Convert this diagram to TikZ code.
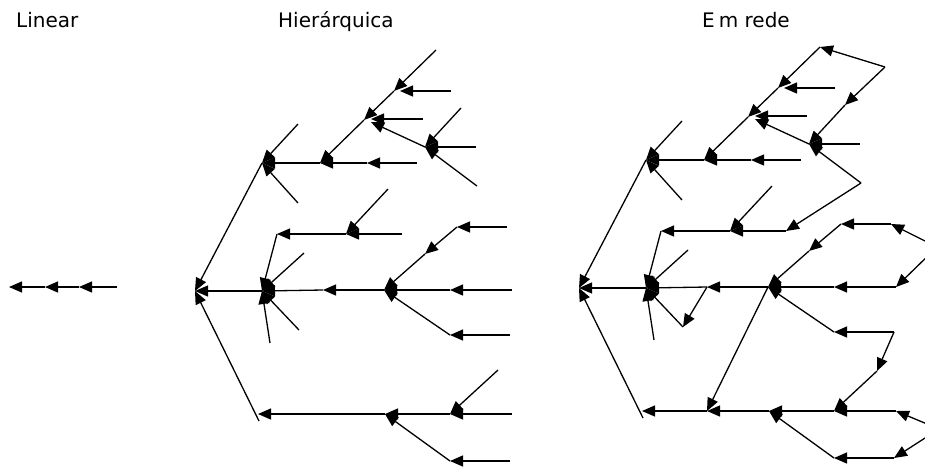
\documentclass[tikz,border=0pt]{standalone}
\usepackage{fontspec}
\setmainfont{DejaVu Sans}
\usetikzlibrary{arrows.meta}
\newcommand\treecoords{%
\coordinate (R) at (195,291);
\coordinate (N1) at (262,163);
\coordinate (a1) at (298,124);
\coordinate (a2) at (298,203);
\coordinate (d0) at (436,50);
\coordinate (d1) at (394,91);
\coordinate (d2) at (364,120);
\coordinate (h1) at (320,163);
\coordinate (h2) at (367,163);
\coordinate (h3) at (417,163);
\coordinate (t1) at (451,91);
\coordinate (t1x) at (400,91);
\coordinate (t2) at (423,119);
\coordinate (t2x) at (371,119);
\coordinate (e) at (425,147);
\coordinate (ex) at (371,122);
\coordinate (e1a) at (461,108);
\coordinate (e2a) at (476,147);
\coordinate (e3a) at (477,186);
\coordinate (N2) at (262,291);
\coordinate (b1) at (277,234);
\coordinate (e1) at (346,234);
\coordinate (e2) at (402,234);
\coordinate (f) at (388,189);
\coordinate (b2) at (304,253);
\coordinate (b3) at (270,343);
\coordinate (b4) at (299,330);
\coordinate (c1) at (384,290);
\coordinate (m1) at (323,290);
\coordinate (g1) at (425,254);
\coordinate (g2) at (457,227);
\coordinate (g3) at (507,227);
\coordinate (k1) at (450,290);
\coordinate (k2) at (512,290);
\coordinate (l1) at (450,335);
\coordinate (l2) at (510,335);
\coordinate (Bh) at (258,414);
\coordinate (Bd) at (259,421);
\coordinate (p1) at (385,414);
\coordinate (p2) at (450,414);
\coordinate (p3) at (512,414);
\coordinate (q) at (498,370);
\coordinate (r1) at (450,461);
\coordinate (r2) at (510,461);
}
\newcommand\myedge[2]{\draw[arr] (#1) -- (#2);}
\newcommand\treeedges{%
\myedge{N1}{R}\myedge{N2}{R}\myedge{Bd}{R}
\myedge{a1}{N1}\myedge{a2}{N1}\myedge{h1}{N1}
\myedge{h2}{h1}\myedge{h3}{h2}
\myedge{d0}{d1}\myedge{d1}{d2}\myedge{d2}{h1}
\myedge{t1}{t1x}\myedge{t2}{t2x}\myedge{e}{ex}
\myedge{e1a}{e}\myedge{e2a}{e}\myedge{e3a}{e}
\myedge{b1}{N2}\myedge{b2}{N2}\myedge{b3}{N2}\myedge{b4}{N2}\myedge{m1}{N2}
\myedge{c1}{m1}
\myedge{e1}{b1}\myedge{e2}{e1}\myedge{f}{e1}
\myedge{g1}{c1}\myedge{g2}{g1}\myedge{g3}{g2}
\myedge{k1}{c1}\myedge{k2}{k1}
\myedge{l1}{c1}\myedge{l2}{l1}
\myedge{p2}{p1}\myedge{p3}{p2}
\myedge{r1}{p1}\myedge{r2}{r1}
}
\begin{document}
\begin{tikzpicture}[x=1pt,y=-1pt,
  arr/.style={draw=black,line width=1.3pt,-{Triangle[length=13pt,width=11pt]}},
  title/.style={anchor=base west,inner sep=0pt,font=\fontsize{20}{24}\selectfont}]
\useasboundingbox (0,0) rectangle (925,467);
\clip (0,0) rectangle (925,467);
% titles
\node[title] (tLinear) at (16,27) {Linear};
\node[title] (tHier) at (278,27) {Hierárquica};
\node[title] (tRede) at (702,27) {E\kern4pt m rede};
% linear
\coordinate (L0) at (9,287);
\coordinate (L1) at (45,287);
\coordinate (L2) at (79,287);
\coordinate (L3) at (117,287);
\myedge{L3}{L2}\myedge{L2}{L1}\myedge{L1}{L0}
% hierarchical
\begin{scope}[name prefix=h-]
\treecoords
\treeedges
\myedge{p1}{Bh}
\myedge{q}{p2}
\end{scope}
% network
\begin{scope}[name prefix=n-,shift={(384,-3)}]
\treecoords
\coordinate (X1) at (501,70);
\coordinate (Y1) at (553,250);
\coordinate (Z1) at (555,432);
\coordinate (mid) at (323,414);
\coordinate (qn) at (493,374);
\treeedges
\myedge{X1}{d0}\myedge{X1}{e1a}
\myedge{e3a}{e2}
\myedge{Y1}{g3}\myedge{Y1}{k2}
\myedge{l2}{qn}\myedge{qn}{p2}
\myedge{Z1}{p3}\myedge{Z1}{r2}
\myedge{c1}{mid}\myedge{p1}{mid}\myedge{mid}{Bh}
\myedge{m1}{b4}
\end{scope}
\end{tikzpicture}
\end{document}
